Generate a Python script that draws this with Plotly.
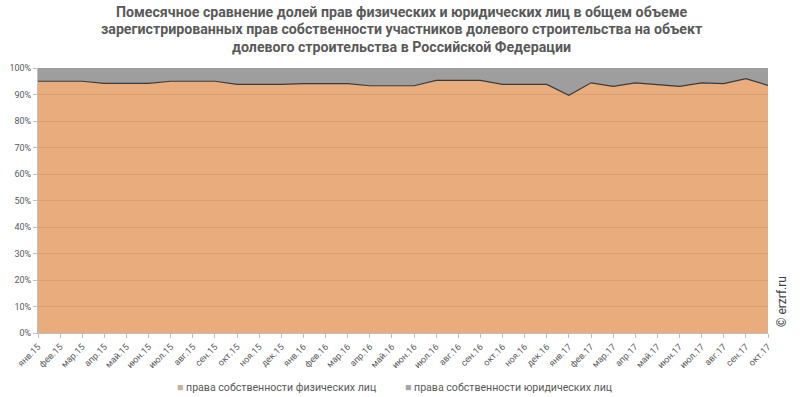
import plotly.graph_objects as go

months = ["янв.15", "фев.15", "мар.15", "апр.15", "май.15", "июн.15", "июл.15", "авг.15",
          "сен.15", "окт.15", "ноя.15", "дек.15", "янв.16", "фев.16", "мар.16", "апр.16",
          "май.16", "июн.16", "июл.16", "авг.16", "сен.16", "окт.16", "ноя.16", "дек.16",
          "янв.17", "фев.17", "мар.17", "апр.17", "май.17", "июн.17", "июл.17", "авг.17",
          "сен.17", "окт.17"]

phys = [95.0, 95.0, 95.0, 94.2, 94.2, 94.2, 95.0, 95.0, 95.0, 93.8, 93.8, 93.8,
        94.1, 94.1, 94.1, 93.3, 93.3, 93.3, 95.3, 95.3, 95.3, 93.8, 93.8, 93.8,
        89.7, 94.4, 93.1, 94.4, 93.7, 93.1, 94.4, 94.1, 96.0, 93.4]

jur = [round(100 - v, 1) for v in phys]

name_phys = "права собственности физических лиц"
name_jur = "права собственности юридических лиц"
title_lines = [
    "Помесячное сравнение долей прав физических и юридических лиц в общем объеме",
    "зарегистрированных прав собственности участников долевого строительства на объект",
    "долевого строительства в Российской Федерации",
]

W, H = 803, 397
ML, MR, MT, MB = 38, 35, 68, 64
PW, PH = W - ML - MR, H - MT - MB


def px_x(x):
    return (x - ML) / PW


def px_y(y):
    return (H - MB - y) / PH


fig = go.Figure()
fig.add_trace(go.Scatter(
    x=months, y=phys, name=name_phys, stackgroup="one", mode="lines",
    line=dict(color="#3a3a3a", width=1.2),
    fillcolor="rgba(229,157,101,0.85)", showlegend=False,
))
fig.add_trace(go.Scatter(
    x=months, y=jur, name=name_jur, stackgroup="one", mode="lines",
    line=dict(color="#9e9e9e", width=0),
    fillcolor="#9e9e9e", showlegend=False,
))

annotations = []
for i, line in enumerate(title_lines):
    annotations.append(dict(
        text="<b>" + line + "</b>", x=px_x(401), y=px_y(12 + 17.5 * i),
        xref="paper", yref="paper", xanchor="center", yanchor="middle",
        showarrow=False,
        font=dict(size=14.2, color="#595959", family="Roboto, Arial, sans-serif")))

annotations += [
    dict(text="<span style='color:#c9b29a'>■</span> " + name_phys,
         x=px_x(175), y=px_y(387), xref="paper", yref="paper",
         xanchor="left", yanchor="middle", showarrow=False,
         font=dict(size=10.6, color="#595959")),
    dict(text="<span style='color:#a6a6a6'>■</span> " + name_jur,
         x=px_x(403), y=px_y(387), xref="paper", yref="paper",
         xanchor="left", yanchor="middle", showarrow=False,
         font=dict(size=10.6, color="#595959")),
    dict(text="© erzrf.ru", textangle=-90, x=px_x(782), y=px_y(302), xref="paper", yref="paper",
         xanchor="center", yanchor="middle", showarrow=False,
         font=dict(size=12, color="#404040")),
]

fig.update_layout(
    width=W, height=H,
    margin=dict(l=ML, r=MR, t=MT, b=MB, autoexpand=False),
    paper_bgcolor="white", plot_bgcolor="white",
    font=dict(family="Roboto, Arial, sans-serif", color="#595959"),
    showlegend=False,
    xaxis=dict(range=[0, len(months) - 1], tickangle=-45, showgrid=False, automargin=False,
               tickfont=dict(size=9, color="#595959"),
               ticks="outside", ticklen=4, tickcolor="#bfbfbf",
               showline=True, linecolor="#bfbfbf", linewidth=1),
    yaxis=dict(range=[0, 100], dtick=10, ticksuffix="%", showgrid=True, automargin=False,
               gridcolor="#a8a8a8", gridwidth=1,
               tickfont=dict(size=9, color="#595959"),
               ticks="outside", ticklen=4, tickcolor="#bfbfbf",
               showline=True, linecolor="#bfbfbf", linewidth=1, zeroline=False),
    annotations=annotations,
)

fig.write_html("out.html", config={"displayModeBar": False},
               post_script="document.body.style.margin='0';")
